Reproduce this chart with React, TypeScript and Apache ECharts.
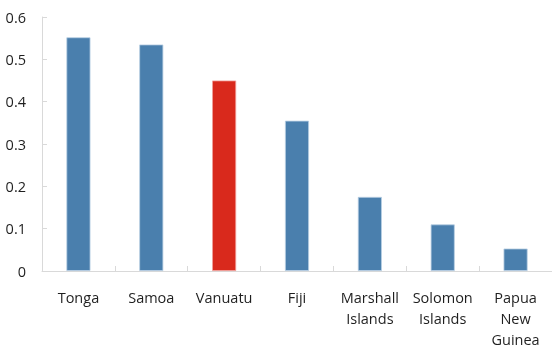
import React, { useEffect, useRef } from "react";
import * as echarts from "echarts";

const categories = ["Tonga", "Samoa", "Vanuatu", "Fiji", "Marshall\nIslands", "Solomon\nIslands", "Papua\nNew\nGuinea"];
const values = [0.552, 0.535, 0.45, 0.355, 0.175, 0.11, 0.053];
const highlighted = "Vanuatu";
const yTicks = [0, 0.1, 0.2, 0.3, 0.4, 0.5, 0.6];

export default function App() {
  const ref = useRef<HTMLDivElement>(null);
  useEffect(() => {
    if (!ref.current) return;
    const chart = echarts.init(ref.current, undefined, { renderer: "svg" });
    const font = "'Open Sans', 'Noto Sans', sans-serif";
    chart.setOption({
      animation: false,
      grid: { left: 42, top: 17, width: 514, height: 260, containLabel: false },
      xAxis: {
        type: "category",
        data: categories,
        axisLine: { show: true, lineStyle: { color: "#d9d9d9", width: 1 } },
        axisTick: { show: true, inside: true, length: 5, alignWithLabel: false, lineStyle: { color: "#d9d9d9" } },
        axisLabel: { color: "#1f1f1f", fontSize: 14.5, fontFamily: font, margin: 16, lineHeight: 21, interval: 0 },
      },
      yAxis: {
        type: "value",
        min: yTicks[0],
        max: yTicks[yTicks.length - 1],
        interval: 0.1,
        splitLine: { show: false },
        axisLine: { show: true, lineStyle: { color: "#d9d9d9", width: 1 } },
        axisTick: { show: true, inside: true, length: 5, lineStyle: { color: "#d9d9d9" } },
        axisLabel: {
          color: "#1f1f1f",
          fontSize: 14.5,
          fontFamily: font,
          margin: 16,
          formatter: (v: number) => (v === 0 ? "0" : String(Math.round(v * 10) / 10)),
        },
      },
      series: [
        {
          type: "bar",
          barWidth: "33%",
          data: values.map((v, i) => ({
            value: v,
            itemStyle: {
              color: categories[i] === highlighted ? "#d9291c" : "#4a7fad",
              borderColor: categories[i] === highlighted ? "#f0a09a" : "#b9cfe3",
              borderWidth: 0.8,
            },
          })),
        },
      ],
    });
    return () => chart.dispose();
  }, []);
  return <div ref={ref} style={{ position: "fixed", left: 0, top: 0, width: 552, height: 350 }} />;
}
